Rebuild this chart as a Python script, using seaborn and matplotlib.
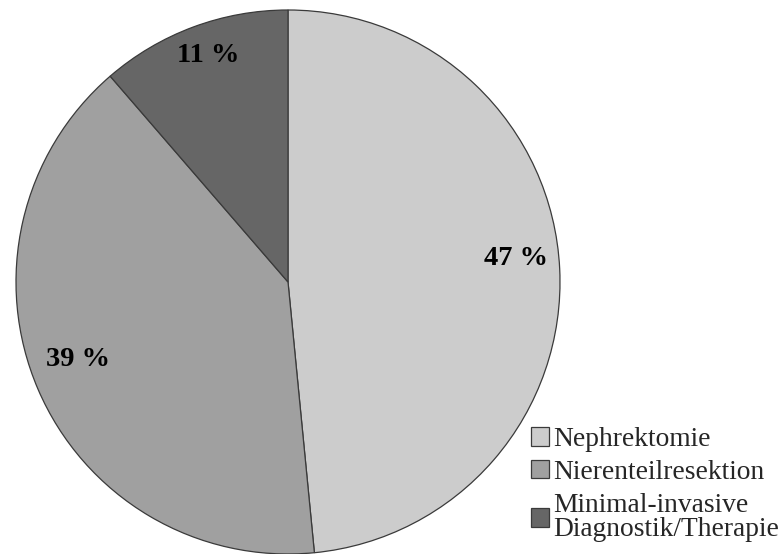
import matplotlib
matplotlib.use("Agg")
import matplotlib.pyplot as plt
import matplotlib.transforms as mtransforms
import seaborn as sns

# Verteilung der Eingriffsarten (Prozent)
categories = ["Nephrektomie", "Nierenteilresektion", "Minimal-invasive\nDiagnostik/Therapie"]
values = [47, 39, 11]
pct_labels = [f"{v} %" for v in values]

sns.set_theme(style="white")
plt.rcParams["font.family"] = ["Liberation Serif", "DejaVu Serif"]

colors = sns.color_palette(["#cccccc", "#a0a0a0", "#666666"])

fig = plt.figure(figsize=(7.81, 5.54), dpi=100)
ax = fig.add_axes([16 / 781, 0 / 554, 544 / 781, 544 / 554])

wedges, texts = ax.pie(
    values,
    colors=colors,
    startangle=90,
    counterclock=False,
    labels=pct_labels,
    labeldistance=0.84,
    wedgeprops=dict(edgecolor="#3a3a3a", linewidth=0.9),
    textprops=dict(fontsize=20.5, fontweight="bold", color="black",
                   ha="center", va="center"),
)
# lift the percentage labels slightly above their radial anchor
lift = mtransforms.offset_copy(ax.transData, fig=fig, x=0, y=12, units="dots")
for t in texts:
    t.set_transform(lift)
for w in wedges:
    w.set_clip_on(False)
ax.set_xlim(-1, 1)
ax.set_ylim(-1, 1)
ax.set_aspect("equal")
ax.axis("off")

leg = fig.legend(
    wedges, categories,
    loc="lower right",
    bbox_to_anchor=(0.997, 0.021),
    frameon=False,
    fontsize=19.8,
    handlelength=0.68,
    handleheight=0.65,
    handletextpad=0.12,
    labelspacing=0.29,
    borderpad=0.0,
    borderaxespad=0.0,
)
for t in leg.get_texts():
    t.set_linespacing(0.97)
for h in leg.legend_handles:
    h.set_edgecolor("#3a3a3a")
    h.set_linewidth(0.9)

fig.savefig("out.png", dpi=100)
